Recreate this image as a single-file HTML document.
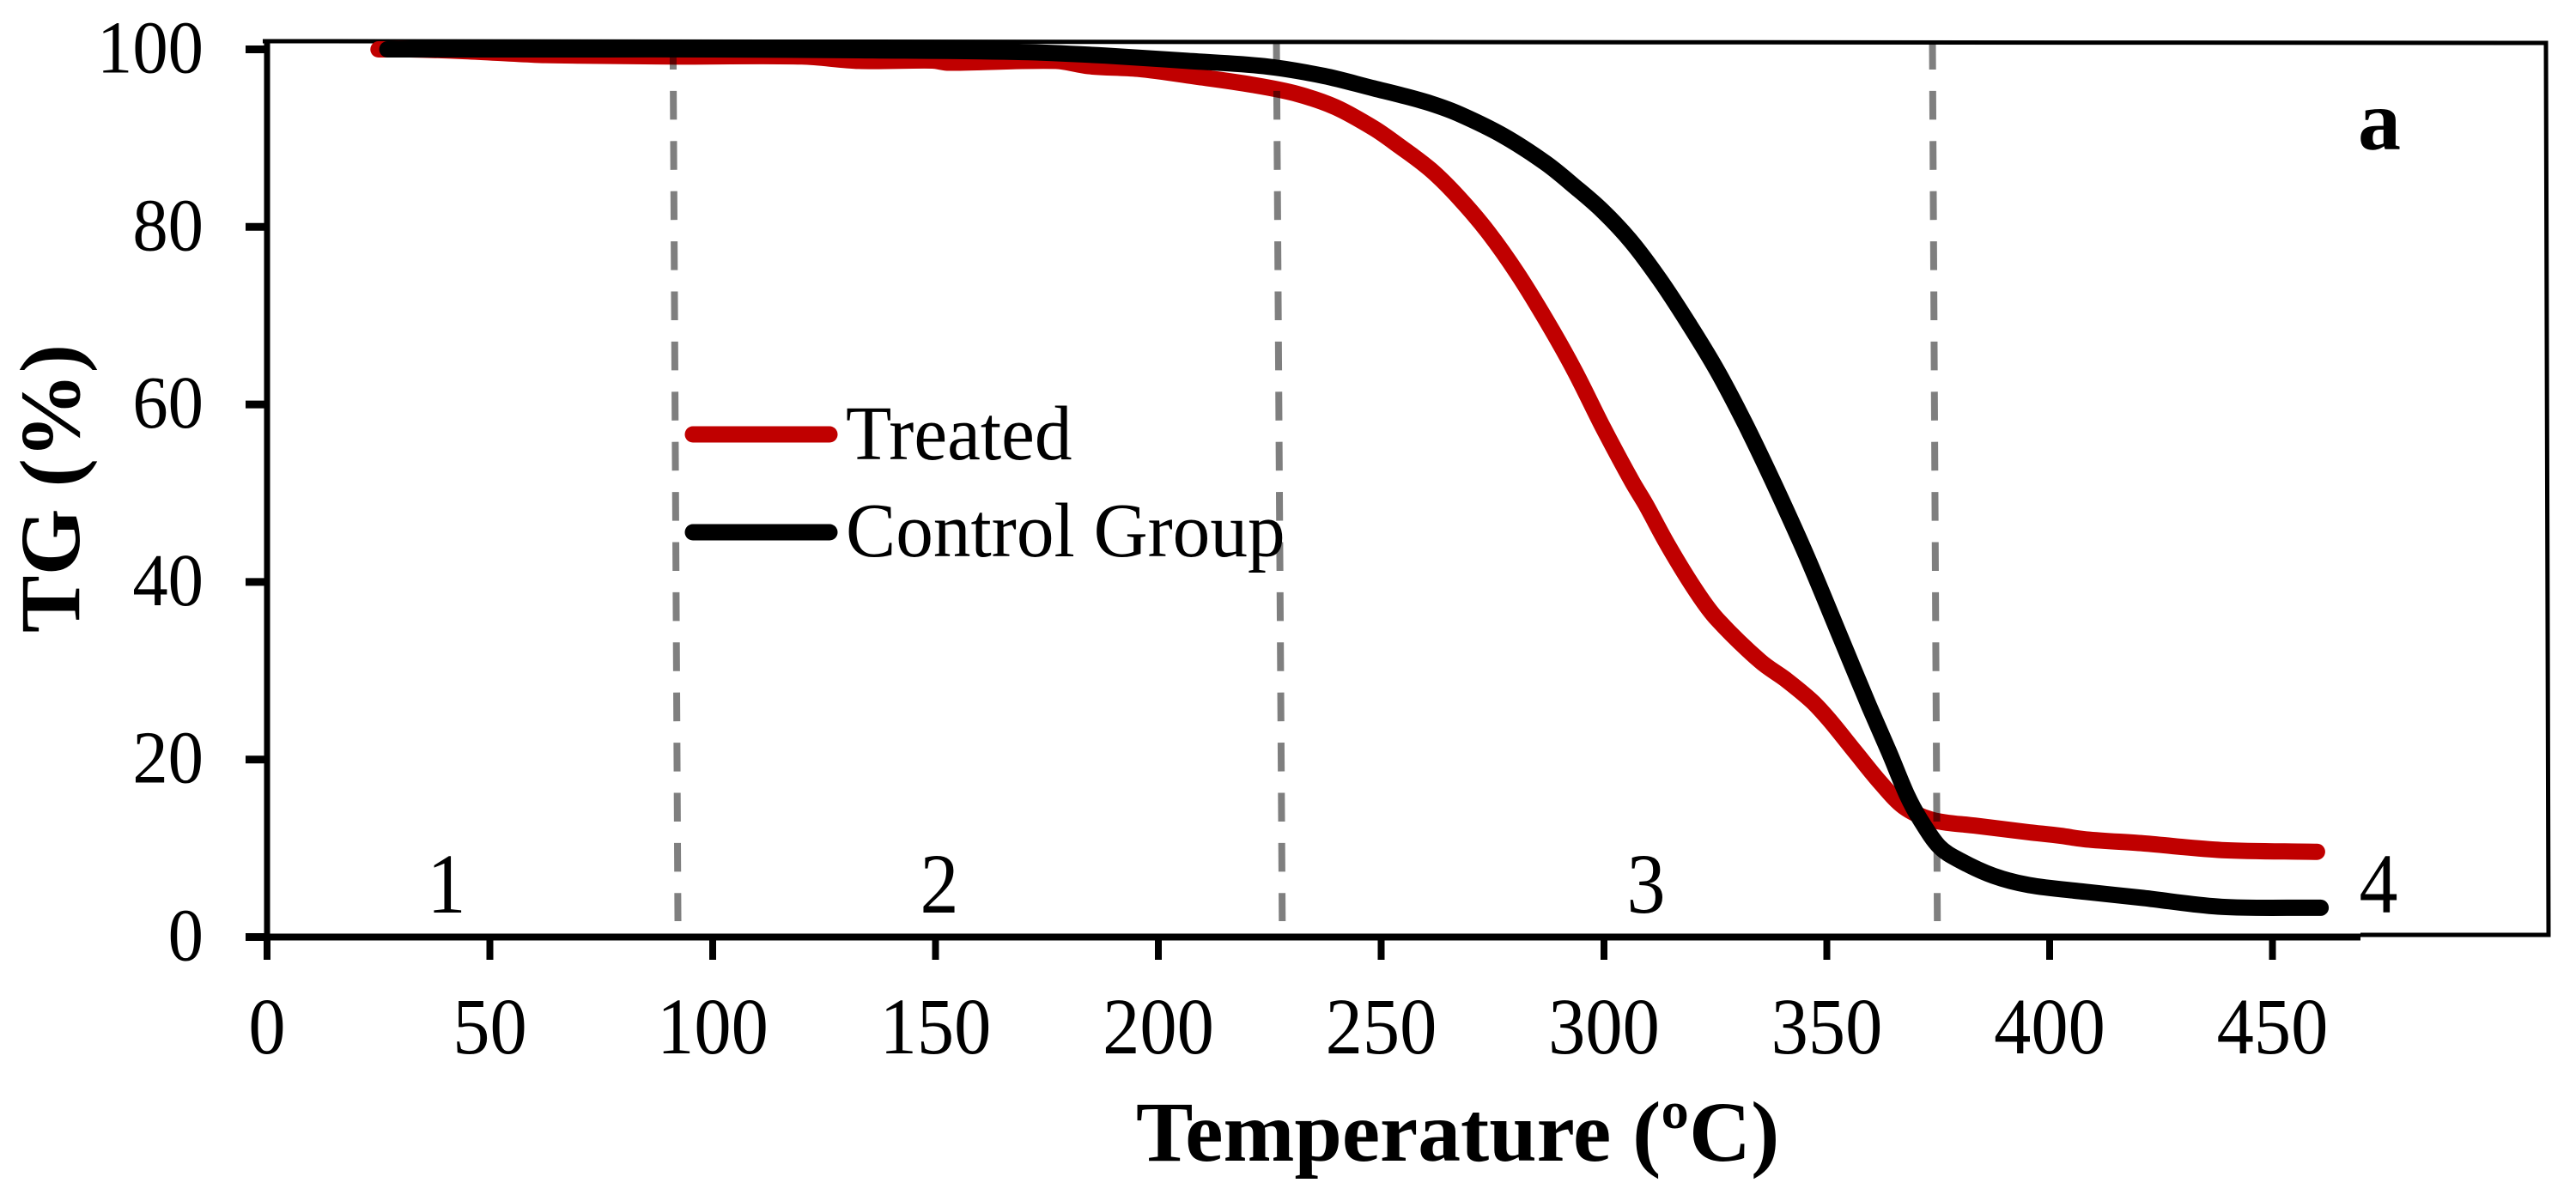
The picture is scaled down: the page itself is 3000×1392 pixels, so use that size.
<!DOCTYPE html>
<html lang="en">
<head>
<meta charset="utf-8">
<title>TG curve</title>
<style>
html,body{margin:0;padding:0;background:#fff;width:3000px;height:1392px;overflow:hidden}
svg{display:block}
text{font-family:"Liberation Serif",serif;fill:#000}
</style>
</head>
<body>
<svg id="chart" xmlns="http://www.w3.org/2000/svg" width="3000" height="1392" viewBox="0 0 3000 1392">
<rect width="3000" height="1392" fill="#fff"/>
<polyline points="306,48 2965,50 2968,1089 2749,1089" fill="none" stroke="#000" stroke-width="5"/>
<g id="series"></g>
<g id="dividers"></g>
<g id="axes"></g>
<g>
<line x1="807" y1="506" x2="966" y2="506" stroke="#c00000" stroke-width="19" stroke-linecap="round"/>
<text transform="translate(985,535) scale(0.97,1)" font-size="90">Treated</text>
<line x1="807" y1="620" x2="966" y2="620" stroke="#000" stroke-width="19" stroke-linecap="round"/>
<text transform="translate(985,648) scale(0.97,1)" font-size="90">Control Group</text>
</g>
<text transform="translate(520,1063) scale(0.9,1)" font-size="100" text-anchor="middle">1</text>
<text transform="translate(1094,1063) scale(0.9,1)" font-size="100" text-anchor="middle">2</text>
<text transform="translate(1917,1063) scale(0.9,1)" font-size="100" text-anchor="middle">3</text>
<text transform="translate(2770,1063) scale(0.9,1)" font-size="100" text-anchor="middle">4</text>
<text x="2771" y="174" font-size="100" font-weight="bold" text-anchor="middle">a</text>
<text x="1323" y="1352" font-size="99.6" font-weight="bold">Temperature (ºC)</text>
<text transform="translate(92,737) rotate(-90)" font-size="100" font-weight="bold">TG (%)</text>
</svg>
<script>
const treatedTemps = [25,32,44.5,60,70,90,120,132.8,149.3,153,177,184.4,195.4,208.9,221.2,231,239.7,248.4,254.1,261.2,267.6,274,280.5,286.9,293.3,299.7,306.2,309.4,314.5,320.9,325.4,335,340.8,346.6,350.5,356.3,362,367.2,373.6,383.2,395.4,402.5,408.2,421,438.6,460];
const treatedValues = [100,100,99.8,99.4,99.3,99.2,99.2,98.7,98.74,98.5,98.7,98.1,97.8,96.9,96,95,93.5,91.1,89.1,86.4,83.2,79.4,74.8,69.6,63.9,57.5,51.4,48.7,44,38.8,35.8,31.1,29,26.6,24.5,20.9,17.4,14.7,13.2,12.55,11.8,11.4,11,10.55,9.8,9.6];
const controlTemps = [27,60,100,132.8,169.6,188,206.5,223.7,237.2,248.4,254.8,261.2,267.6,277.3,286.9,293.3,299.7,306.2,312.6,319,325.4,331.9,338.3,345.5,353.7,359.5,364,368,371,375.2,380,387.4,395.4,408,421,438.6,460.8];
const controlValues = [100,100,100,99.9,99.7,99.3,98.7,98.1,97,95.6,94.8,93.9,92.7,90.3,87.2,84.6,81.8,78.3,74,69.1,63.8,57.6,50.9,42.9,33,26,20.8,16,13.2,10.2,8.6,6.9,5.85,5.1,4.4,3.4,3.3];
const xTickValues = [0,50,100,150,200,250,300,350,400,450];
const yTickValues = [0,20,40,60,80,100];
const stageBoundaryTops = [91.1,226.5,373.7];
const stageBoundaryBottoms = [92.2,227.8,374.8];

const NS = 'http://www.w3.org/2000/svg';
function xScale(t){ return 311 + 5.19 * t; }
function yScale(v){ return 1091.5 - 10.34 * v; }
function make(parent, tag, attrs){
  const el = document.createElementNS(NS, tag);
  for (const k in attrs) el.setAttribute(k, attrs[k]);
  parent.appendChild(el);
  return el;
}
function pathFor(ts, vs){
  const xs = ts.map(xScale);
  const ys = vs.map(yScale);
  const n = xs.length;
  const slope = xs.map(function(x, i){
    const a = Math.max(i - 1, 0), b = Math.min(i + 1, n - 1);
    return (ys[b] - ys[a]) / (xs[b] - xs[a]);
  });
  let d = 'M' + xs[0].toFixed(1) + ' ' + ys[0].toFixed(1);
  for (let i = 0; i < n - 1; i++){
    const h = (xs[i + 1] - xs[i]) / 3;
    d += ' C' + (xs[i] + h).toFixed(1) + ' ' + (ys[i] + slope[i] * h).toFixed(1) +
         ' ' + (xs[i + 1] - h).toFixed(1) + ' ' + (ys[i + 1] - slope[i + 1] * h).toFixed(1) +
         ' ' + xs[i + 1].toFixed(1) + ' ' + ys[i + 1].toFixed(1);
  }
  return d;
}

const axes = document.getElementById('axes');
const yAxis = make(axes, 'line', {x1: xScale(0), x2: xScale(0), y1: 47, y2: 1118, stroke: '#000', 'stroke-width': 7});


const xAxis = make(axes, 'line', {x1: 286, x2: 2749, y1: yScale(0), y2: yScale(0), stroke: '#000', 'stroke-width': 8});



xTickValues.forEach(function(t){
  const tick = make(axes, 'line', {x1: xScale(t), x2: xScale(t), y1: yScale(0), y2: 1118, stroke: '#000', 'stroke-width': 8});
  
  
  const label = make(axes, 'text', {transform: 'translate(' + xScale(t) + ',1227) scale(0.93,1)', 'font-size': 93, 'text-anchor': 'middle'});
  
  
  label.textContent = t;
});
yTickValues.forEach(function(v){
  const tick = make(axes, 'line', {x1: 286, x2: xScale(0), y1: yScale(v), y2: yScale(v), stroke: '#000', 'stroke-width': 9});
  
  
  const label = make(axes, 'text', {transform: 'translate(237,' + (yScale(v) + 27) + ') scale(0.95,1)', 'font-size': 87, 'text-anchor': 'end'});
  
  
  label.textContent = v;
});

const seriesGroup = document.getElementById('series');
const treatedLine = make(seriesGroup, 'path', {d: pathFor(treatedTemps, treatedValues), fill: 'none', stroke: '#c00000', 'stroke-width': 19, 'stroke-linecap': 'round', 'stroke-linejoin': 'round'});


const controlLine = make(seriesGroup, 'path', {d: pathFor(controlTemps, controlValues), fill: 'none', stroke: '#000', 'stroke-width': 19, 'stroke-linecap': 'round', 'stroke-linejoin': 'round'});



const dividers = document.getElementById('dividers');
stageBoundaryTops.forEach(function(top, i){
  const d = make(dividers, 'line', {x1: xScale(top), x2: xScale(stageBoundaryBottoms[i]), y1: 47.5, y2: 1073, stroke: '#000', 'stroke-opacity': 0.5, 'stroke-width': 8, 'stroke-dasharray': '33.5 24.9'});
  
  
});
</script>
</body>
</html>
